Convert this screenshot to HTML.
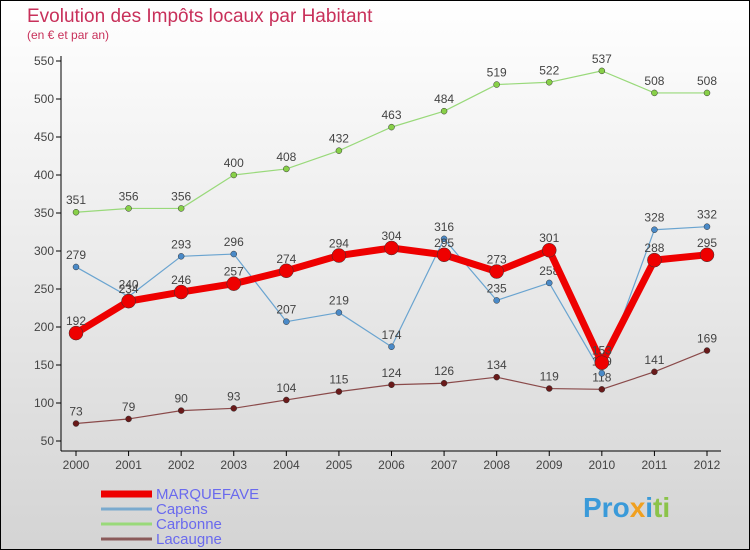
<!DOCTYPE html>
<html><head><meta charset="utf-8"><style>
body{margin:0}
#c{width:750px;height:550px;position:relative;background:linear-gradient(#ffffff,#d4d4d4);border:1px solid #000;box-sizing:border-box;overflow:hidden;font-family:"Liberation Sans",sans-serif}
</style></head><body>
<div id="c">
<svg id="s" width="750" height="550">
<text x="26" y="21" font-size="19" fill="#c8305a">Evolution des Impôts locaux par Habitant</text>
<text x="26" y="38" font-size="12" fill="#c8305a">(en € et par an)</text>
<g id="axes"></g><g id="series"></g><g id="legend"></g>
<text x="582" y="516" font-size="28" font-weight="bold" fill="#3a9ad9">Pro<tspan fill="#f0a020">x</tspan><tspan fill="#3a9ad9">i</tspan><tspan fill="#8bc34a">ti</tspan></text>
</svg>
</div>
<script>
const years=[2000,2001,2002,2003,2004,2005,2006,2007,2008,2009,2010,2011,2012];
const yTicks=[50,100,150,200,250,300,350,400,450,500,550];
const marquefave=[192,234,246,257,274,294,304,295,273,301,153,288,295];
const capens=[279,240,293,296,207,219,174,316,235,258,139,328,332];
const carbonne=[351,356,356,400,408,432,463,484,519,522,537,508,508];
const lacaugne=[73,79,90,93,104,115,124,126,134,119,118,141,169];
const NS="http://www.w3.org/2000/svg";
const X=i=>75+i*(706-75)/12;
const Y=v=>440-(v-50)*(440-60)/500;
function mk(t,a,p){const e=document.createElementNS(NS,t);for(const k in a)e.setAttribute(k,a[k]);p.appendChild(e);return e;}
const ax=document.getElementById('axes');
mk('line',{x1:60,y1:55,x2:60,y2:450,stroke:'#000'},ax);
mk('line',{x1:60,y1:450,x2:720,y2:450,stroke:'#000'},ax);
yTicks.forEach(v=>{mk('line',{x1:55,y1:Y(v),x2:60,y2:Y(v),stroke:'#000'},ax);
const t=mk('text',{x:53,y:Y(v)+4,'font-size':12,fill:'#444','text-anchor':'end'},ax);t.textContent=v;

});
years.forEach((yr,i)=>{mk('line',{x1:X(i),y1:450,x2:X(i),y2:455,stroke:'#000'},ax);
const t=mk('text',{x:X(i),y:468,'font-size':12,fill:'#444','text-anchor':'middle'},ax);t.textContent=yr;

});
const sg=document.getElementById('series');
function draw(d,col,w,r,name,dot){
const g=mk('g',{},sg);


mk('polyline',{points:d.map((v,i)=>X(i)+','+Y(v)).join(' '),fill:'none',stroke:col,'stroke-width':w,'stroke-linejoin':'round'},g);
d.forEach((v,i)=>{const c=mk('circle',{cx:X(i),cy:Y(v),r:r,fill:dot,stroke:'#333','stroke-width':0.5},g);


const t=mk('text',{x:X(i),y:Y(v)-8,'font-size':12,fill:'#444','text-anchor':'middle'},g);t.textContent=v;

});}
draw(carbonne,'#99d97a',1.2,3,'carbonne','#88d048');
draw(lacaugne,'#8a4a4a',1.2,3,'lacaugne','#6a1a1a');
draw(capens,'#6aa4d0',1.2,3,'capens','#4a8ac8');
draw(marquefave,'#ee0000',7,7,'marquefave','#ee0000');
const lg=document.getElementById('legend');
[['MARQUEFAVE','#ee0000',7],['Capens','#7aaace',3],['Carbonne','#99d97a',3],['Lacaugne','#8a5a5a',3]].forEach((e,i)=>{
const y=493+i*15;
const l=mk('line',{x1:100,y1:y,x2:151,y2:y,stroke:e[1],'stroke-width':e[2]},lg);


const t=mk('text',{x:155,y:y+5,'font-size':15,fill:'#6a6aee'},lg);t.textContent=e[0];

});
</script>
</body></html>
